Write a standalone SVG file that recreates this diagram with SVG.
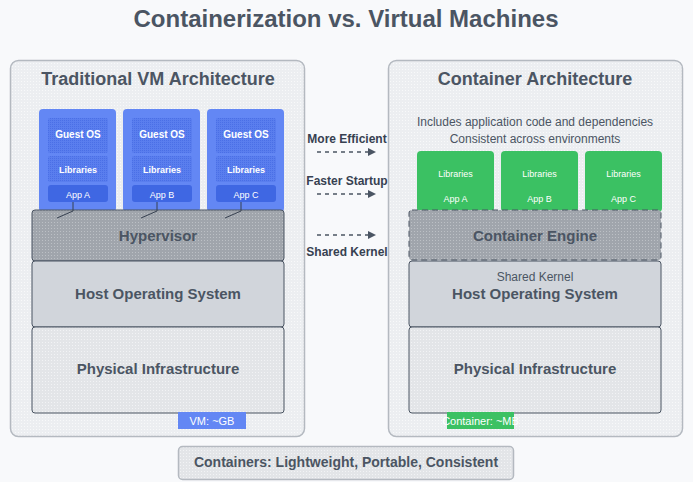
<svg xmlns="http://www.w3.org/2000/svg" width="693" height="482" viewBox="0 0 693 482">
<defs>
<pattern id="pPanel" width="3" height="3" patternUnits="userSpaceOnUse"><rect width="3" height="3" fill="#eceef1"/><rect width="1" height="1" fill="#f8f9fa"/></pattern>
<pattern id="pHyp" width="3" height="3" patternUnits="userSpaceOnUse"><rect width="3" height="3" fill="#a0a5ac"/><rect width="1" height="1" fill="#bcc0c5"/></pattern>
<pattern id="pPhys" width="3" height="3" patternUnits="userSpaceOnUse"><rect width="3" height="3" fill="#e3e5e8"/><rect width="1" height="1" fill="#f2f3f5"/></pattern>
<pattern id="pBlue" width="2" height="2" patternUnits="userSpaceOnUse"><rect width="2" height="2" fill="#5a7eee"/><rect width="1" height="1" fill="#4a6fe6"/></pattern>
<marker id="arr" viewBox="0 0 10 10" refX="0" refY="5" markerWidth="8" markerHeight="8" markerUnits="userSpaceOnUse" orient="auto"><path d="M0,0 L10,5 L0,10 Z" fill="#4b5563"/></marker>
</defs>
<style>
text{font-family:"Liberation Sans",Arial,sans-serif;text-anchor:middle}
.title{font-size:24px;font-weight:bold;fill:#4b5563}
.ptitle{font-size:18px;font-weight:bold;fill:#4b5563}
.layer{font-size:15px;font-weight:bold;fill:#4b5563}
.panel{fill:url(#pPanel);stroke:#b4b9c0;stroke-width:1.5}
.vm{fill:#6387f4}
.inner{fill:url(#pBlue)}
.app{fill:#3f67e3}
.wt{fill:#ffffff}
.hyp{fill:url(#pHyp);stroke:#4b5563;stroke-width:1}
.host{fill:#d1d5db;stroke:#4b5563;stroke-width:1}
.phys{fill:url(#pPhys);stroke:#4b5563;stroke-width:1}
.green{fill:#3bc163}
.mid{font-size:12px;font-weight:bold;fill:#374151}
.note{font-size:12px;fill:#4b5563}
.conn{stroke:#4b5563;stroke-width:1.5;stroke-dasharray:4,4;fill:none}
.link{stroke:#374151;stroke-width:1;fill:none}
</style>
<rect width="693" height="482" fill="#f8f9fb"/>
<text class="title" x="346" y="27">Containerization vs. Virtual Machines</text>

<g id="vm-panel">
<rect class="panel" x="10.5" y="60.5" width="294" height="376" rx="8"/>
<text class="ptitle" x="158" y="85">Traditional VM Architecture</text>
</g>

<g id="vm1">
<rect class="vm" x="39" y="109" width="77" height="103" rx="4"/>
<rect class="inner" x="48" y="118" width="60" height="35" rx="2"/>
<rect class="inner" x="48" y="156" width="60" height="26" rx="2"/>
<rect class="app" x="48" y="185" width="60" height="17" rx="3"/>
<text class="wt" x="78" y="138" font-size="10" font-weight="bold">Guest OS</text>
<text class="wt" x="78" y="173" font-size="9" font-weight="bold">Libraries</text>
<text class="wt" x="78" y="198" font-size="9">App A</text>
</g>
<g id="vm2">
<rect class="vm" x="123" y="109" width="77" height="103" rx="4"/>
<rect class="inner" x="132" y="118" width="60" height="35" rx="2"/>
<rect class="inner" x="132" y="156" width="60" height="26" rx="2"/>
<rect class="app" x="132" y="185" width="60" height="17" rx="3"/>
<text class="wt" x="162" y="138" font-size="10" font-weight="bold">Guest OS</text>
<text class="wt" x="162" y="173" font-size="9" font-weight="bold">Libraries</text>
<text class="wt" x="162" y="198" font-size="9">App B</text>
</g>
<g id="vm3">
<rect class="vm" x="207" y="109" width="77" height="103" rx="4"/>
<rect class="inner" x="216" y="118" width="60" height="35" rx="2"/>
<rect class="inner" x="216" y="156" width="60" height="26" rx="2"/>
<rect class="app" x="216" y="185" width="60" height="17" rx="3"/>
<text class="wt" x="246" y="138" font-size="10" font-weight="bold">Guest OS</text>
<text class="wt" x="246" y="173" font-size="9" font-weight="bold">Libraries</text>
<text class="wt" x="246" y="198" font-size="9">App C</text>
</g>

<g id="hypervisor">
<rect class="hyp" x="32" y="210" width="252" height="51" rx="3"/>
<text class="layer" x="158" y="241">Hypervisor</text>
</g>
<g id="vm-host-os">
<rect class="host" x="32" y="261" width="252" height="66" rx="3"/>
<text class="layer" x="158" y="299">Host Operating System</text>
</g>
<g id="vm-physical">
<rect class="phys" x="32" y="327" width="252" height="86" rx="3"/>
<text class="layer" x="158" y="374">Physical Infrastructure</text>
</g>
<g id="vm-badge">
<rect x="178" y="412" width="68" height="17" fill="#6387f4"/>
<text class="wt" x="212" y="425" font-size="11">VM: ~GB</text>
</g>

<g id="container-panel">
<rect class="panel" x="388.5" y="60.5" width="294" height="376" rx="8"/>
<text class="ptitle" x="535" y="85">Container Architecture</text>
<text class="note" x="535" y="126">Includes application code and dependencies</text>
<text class="note" x="535" y="143">Consistent across environments</text>
</g>

<g id="c1">
<rect class="green" x="417" y="151" width="77" height="61" rx="4"/>
<text class="wt" x="455.5" y="177" font-size="9">Libraries</text>
<text class="wt" x="455.5" y="202" font-size="9">App A</text>
</g>
<g id="c2">
<rect class="green" x="501" y="151" width="77" height="61" rx="4"/>
<text class="wt" x="539.5" y="177" font-size="9">Libraries</text>
<text class="wt" x="539.5" y="202" font-size="9">App B</text>
</g>
<g id="c3">
<rect class="green" x="585" y="151" width="77" height="61" rx="4"/>
<text class="wt" x="623.5" y="177" font-size="9">Libraries</text>
<text class="wt" x="623.5" y="202" font-size="9">App C</text>
</g>

<g id="c-host-os">
<rect class="host" x="409" y="261" width="252" height="66" rx="3"/>
<text class="note" x="535" y="281">Shared Kernel</text>
<text class="layer" x="535" y="299">Host Operating System</text>
</g>
<g id="container-engine">
<rect class="hyp" x="409" y="210" width="252" height="50" rx="3" stroke-width="2" stroke-dasharray="6,4"/>
<text class="layer" x="535" y="241">Container Engine</text>
</g>
<g id="c-physical">
<rect class="phys" x="409" y="327" width="252" height="86" rx="3"/>
<text class="layer" x="535" y="374">Physical Infrastructure</text>
</g>
<g id="c-badge">
<rect x="447" y="412" width="67" height="17" fill="#3bc163"/>
<text class="wt" x="480.5" y="425" font-size="11">Container: ~MB</text>
</g>

<g id="summary">
<rect x="178.5" y="446.5" width="335" height="33" rx="4" fill="url(#pPhys)" stroke="#b4b9c0" stroke-width="1.5"/>
<text x="346" y="467" font-size="14" font-weight="bold" fill="#4b5563">Containers: Lightweight, Portable, Consistent</text>
</g>

<g id="connectors">
<polyline class="link" points="73,202 73,211 57,218"/>
<polyline class="link" points="157,202 157,211 141,218"/>
<polyline class="link" points="241,202 241,211 225,218"/>
<line class="conn" x1="317" y1="152" x2="368" y2="152" marker-end="url(#arr)"/>
<line class="conn" x1="317" y1="194" x2="368" y2="194" marker-end="url(#arr)"/>
<line class="conn" x1="317" y1="235" x2="368" y2="235" marker-end="url(#arr)"/>
<text class="mid" x="347" y="143">More Efficient</text>
<text class="mid" x="347" y="185">Faster Startup</text>
<text class="mid" x="347" y="256">Shared Kernel</text>
</g>
</svg>
